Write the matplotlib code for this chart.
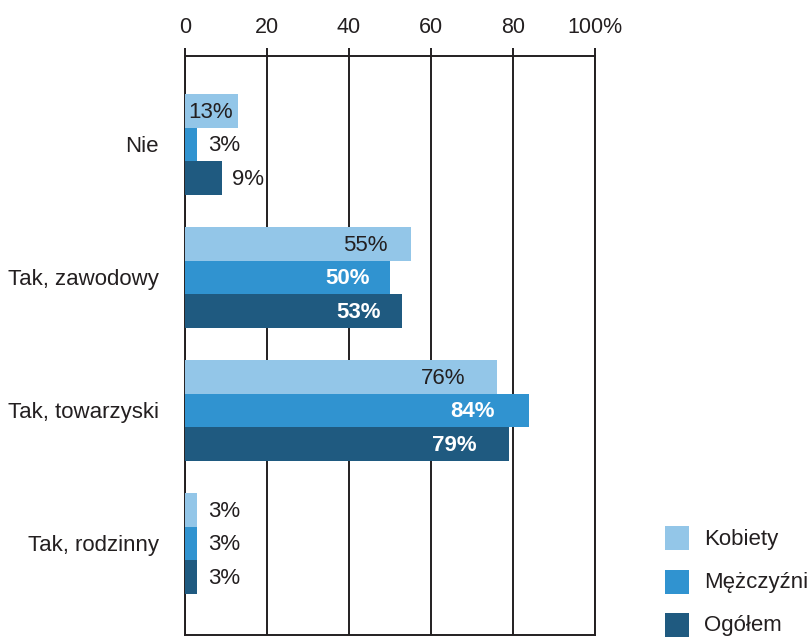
import matplotlib
matplotlib.use("Agg")
import matplotlib.pyplot as plt
from matplotlib.patches import Rectangle
import numpy as np

plt.rcParams['font.family'] = ['Liberation Sans', 'DejaVu Sans']

categories = ["Nie", "Tak, zawodowy", "Tak, towarzyski", "Tak, rodzinny"]
series_names = ["Kobiety", "Mężczyźni", "Ogółem"]
kobiety = [13, 55, 76, 3]
mezczyzni = [3, 50, 84, 3]
ogolem = [9, 53, 79, 3]
x_ticks = [0, 20, 40, 60, 80, 100]
x_tick_labels = ["0", "20", "40", "60", "80", "100%"]

colors = ["#93C6E8", "#3093D0", "#1F5A80"]
dark = "#231F20"
W, H = 810, 639
fig = plt.figure(figsize=(W / 100, H / 100), dpi=100)
ax = fig.add_axes([185 / W, 1 - 635 / H, (595 - 185) / W, (635 - 56) / H])

series = [kobiety, mezczyzni, ogolem]
bh = 0.252
ypos = np.arange(len(categories))
offsets = [-bh, 0, bh]
fs = 16
for s, (vals, col, off) in enumerate(zip(series, colors, offsets)):
    ax.barh(ypos + off, vals, height=bh, color=col, zorder=3, linewidth=0)
    for y, v in zip(ypos + off, vals):
        if v > 10:
            if s == 0:
                ax.text(v * 0.9, y + 0.01, f"{v}%", ha="right", va="center",
                        fontsize=fs, color=dark, zorder=4)
            else:
                ax.text(v * 0.9, y + 0.01, f"{v}%", ha="right", va="center",
                        fontsize=fs, color="white", fontweight="bold", zorder=4)
        else:
            ax.annotate(f"{v}%", (v, y + 0.01), xytext=(7.5, 0), textcoords="offset points",
                        ha="left", va="center", fontsize=fs, color=dark, zorder=4)

ax.set_xlim(0, 100)
ax.set_ylim(3.688, -0.665)
ax.set_xticks(x_ticks)
ax.set_xticklabels(x_tick_labels)
ax.xaxis.tick_top()
ax.tick_params(axis="x", direction="out", length=6, width=1.4, color=dark,
               labelsize=15.5, labelcolor=dark, pad=7)
ax.set_yticks(ypos)
ax.set_yticklabels(categories)
ax.tick_params(axis="y", length=0, pad=19, labelsize=fs, labelcolor=dark)
for x in x_ticks:
    ax.axvline(x, color=dark, lw=1.4, zorder=1)
for sp in ax.spines.values():
    sp.set_color(dark)
    sp.set_linewidth(1.4)
    sp.set_zorder(1)

for i, (name, col) in enumerate(zip(series_names, colors)):
    top = 526 + i * 43.5
    fig.add_artist(Rectangle((665 / W, 1 - (top + 24) / H), 24 / W, 24 / H,
                             transform=fig.transFigure, color=col, lw=0))
    fig.text(704 / W, 1 - (top + 13) / H, name, ha="left", va="center",
             fontsize=fs, color=dark)

fig.savefig("out.png", dpi=100)
